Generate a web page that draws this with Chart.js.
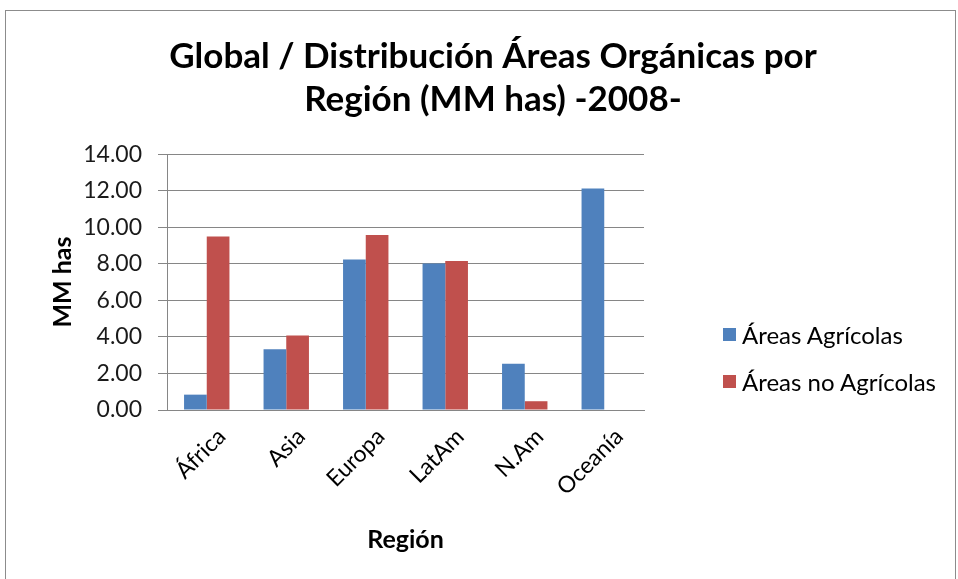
<!DOCTYPE html>
<html>
<head>
<meta charset="utf-8">
<script src="https://cdn.jsdelivr.net/npm/chart.js@4.4.0/dist/chart.umd.min.js"></script>
<style>
    body { margin: 0; background: #fff; }
    #wrap { position: relative; width: 958px; height: 579px; overflow: hidden; }
    #frame { position: absolute; left: 5px; top: 10px; width: 949px; height: 600px; border: 1px solid #8c8c8c; pointer-events: none; }
    #legend { position: absolute; left: 723px; top: 311px; font-family: Lato, sans-serif; font-size: 24px; color: #000; }
    #legend .row { display: flex; align-items: center; height: 47px; white-space: nowrap; }
    #legend .box { width: 13px; height: 13px; margin-right: 6px; }
</style>
</head>
<body>
<div id="wrap">
    <canvas id="areasChart" width="958" height="579"></canvas>
    <div id="legend"></div>
    <div id="frame"></div>
</div>
<script>
const regions = ["África", "Asia", "Europa", "LatAm", "N.Am", "Oceanía"];
const agricolas = [0.84, 3.32, 8.24, 8.02, 2.53, 12.12];
const noAgricolas = [9.49, 4.08, 9.58, 8.15, 0.48, 0];
const titleLines = ["Global / Distribución Áreas Orgánicas por", "Región (MM has) -2008-"];

const font = "Lato";

document.addEventListener("DOMContentLoaded", function () {
    const areasChart = new Chart(document.getElementById("areasChart"), {
        type: "bar",
        data: {
            labels: regions,
            datasets: [{
                label: "Áreas Agrícolas",
                data: agricolas,
                backgroundColor: "#4F81BD"
            }, {
                label: "Áreas no Agrícolas",
                data: noAgricolas,
                backgroundColor: "#C0504D"
            }]
        },
        options: {
            responsive: false,
            animation: false,
            layout: { padding: { left: 42, top: 10, right: 14, bottom: 20 } },
            datasets: { bar: { categoryPercentage: 0.571, barPercentage: 1 } },
            plugins: {
                title: {
                    display: true,
                    text: titleLines,
                    color: "#000",
                    font: { family: font, size: 35, weight: "bold", lineHeight: 1.23 },
                    padding: { top: 25, bottom: 33 }
                },
                // legend is drawn in HTML beside the canvas, see below
                legend: { display: false },
                tooltip: { enabled: false }
            },
            scales: {
                x: {
                    grid: { display: false },
                    border: { color: "#868686" },
                    ticks: {
                        color: "#000",
                        minRotation: 45,
                        maxRotation: 45,
                        labelOffset: 15,
                        padding: 5,
                        font: { family: font, size: 23 }
                    },
                    title: {
                        display: true,
                        text: "Región",
                        color: "#000",
                        font: { family: font, size: 25, weight: "bold" },
                        padding: 4
                    },
                    afterFit: function (s) { s.height = 149; }
                },
                y: {
                    min: 0,
                    max: 14,
                    grid: { color: "#868686", tickLength: 9 },
                    border: { color: "#868686" },
                    ticks: {
                        stepSize: 2,
                        color: "#1a1a1a",
                        padding: 16,
                        font: { family: font, size: 23 },
                        callback: function (v) { return v.toFixed(2); }
                    },
                    title: {
                        display: true,
                        text: "MM has",
                        color: "#000",
                        font: { family: font, size: 25, weight: "bold" },
                        padding: 6
                    },
                    afterFit: function (s) { s.width = 125; }
                },
                // empty axis keeping room for the legend on the right
                legendRoom: {
                    type: "linear",
                    position: "right",
                    grid: { display: false },
                    border: { display: false },
                    ticks: { display: false },
                    afterFit: function (s) { s.width = 300; }
                }
            }
        }
    });

    // legend from the chart's own datasets
    const legend = document.getElementById("legend");
    areasChart.data.datasets.forEach(function (ds) {
        const row = document.createElement("div");
        row.className = "row";
        const box = document.createElement("span");
        box.className = "box";
        box.style.background = ds.backgroundColor;
        const txt = document.createElement("span");
        txt.textContent = ds.label;
        row.appendChild(box);
        row.appendChild(txt);
        legend.appendChild(row);
    });
});
</script>
</body>
</html>
